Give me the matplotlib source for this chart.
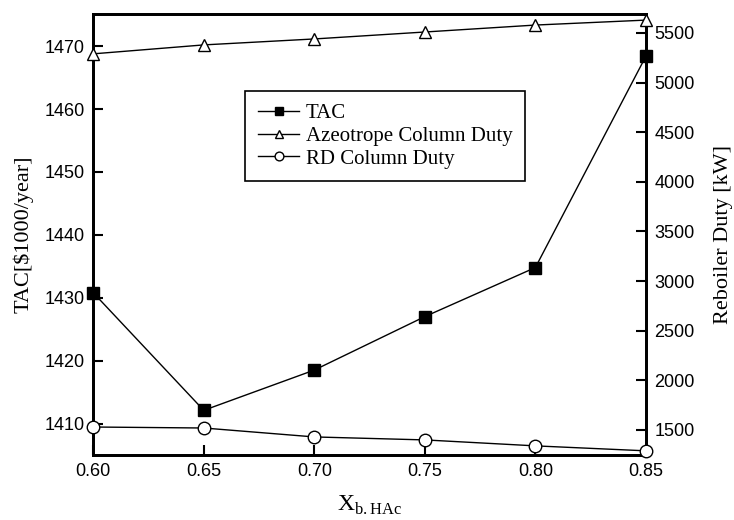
import matplotlib

matplotlib.use("Agg")
import matplotlib.pyplot as plt

# Data
x_bhac = [0.60, 0.65, 0.70, 0.75, 0.80, 0.85]
tac = [1430.8, 1412.1, 1418.5, 1427.0, 1434.8, 1468.4]          # $1000/year
azeo_duty = [5290, 5380, 5440, 5510, 5580, 5630]                # kW
rd_duty = [1530, 1520, 1430, 1400, 1340, 1290]                  # kW

x_ticks = [0.60, 0.65, 0.70, 0.75, 0.80, 0.85]
left_ticks = [1410, 1420, 1430, 1440, 1450, 1460, 1470]
right_ticks = [1500, 2000, 2500, 3000, 3500, 4000, 4500, 5000, 5500]

SERIF = "Liberation Serif"
SANS = "Liberation Sans"

fig = plt.figure(figsize=(7.34, 5.2), dpi=100)
ax = fig.add_axes([0.127, 0.125, 0.753, 0.848])
ax2 = ax.twinx()

line_kw = dict(color="k", linewidth=1.0, markersize=9, clip_on=False)
h1, = ax.plot(x_bhac, tac, marker="s", markerfacecolor="k",
              markeredgecolor="k", label="TAC", zorder=5, **line_kw)
h2, = ax2.plot(x_bhac, azeo_duty, marker="^", markerfacecolor="white",
               markeredgecolor="k", label="Azeotrope Column Duty", zorder=5, **line_kw)
h3, = ax2.plot(x_bhac, rd_duty, marker="o", markerfacecolor="white",
               markeredgecolor="k", label="RD Column Duty", zorder=5, **line_kw)

ax.set_xlim(0.60, 0.85)
ax.set_ylim(1405, 1475.1)
ax2.set_ylim(1248, 5691)

ax.set_xticks(x_ticks)
ax.set_xticklabels([f"{v:.2f}" for v in x_ticks], family=SANS, fontsize=13)
ax.set_yticks(left_ticks)
ax.set_yticklabels([str(v) for v in left_ticks], family=SANS, fontsize=13)
ax2.set_yticks(right_ticks)
ax2.set_yticklabels([str(v) for v in right_ticks], family=SANS, fontsize=13)

ax.tick_params(axis="both", direction="in", length=7, width=1.5, pad=6, top=False)
ax2.tick_params(axis="y", direction="in", length=7, width=1.5, pad=6)

for a in (ax, ax2):
    for s in a.spines.values():
        s.set_linewidth(2.0)

ax.set_xlabel(r"X$_{\mathregular{b.HAc}}$", family=SERIF, fontsize=17, labelpad=10)
ax.set_ylabel("TAC[$1000/year]".replace("$", r"\$"), family=SERIF, fontsize=16, labelpad=8)
ax2.set_ylabel("Reboiler Duty [kW]", family=SERIF, fontsize=16, labelpad=14)

leg = ax.legend(handles=[h1, h2, h3], loc="upper left",
                bbox_to_anchor=(0.275, 0.825), borderaxespad=0,
                prop={"family": SERIF, "size": 15},
                frameon=True, fancybox=False, edgecolor="k", framealpha=1,
                handlelength=2.0, handletextpad=0.3, labelspacing=0.15,
                borderpad=0.6, markerscale=0.7)
leg.get_frame().set_linewidth(1.2)

fig.savefig("out.png", dpi=100)
